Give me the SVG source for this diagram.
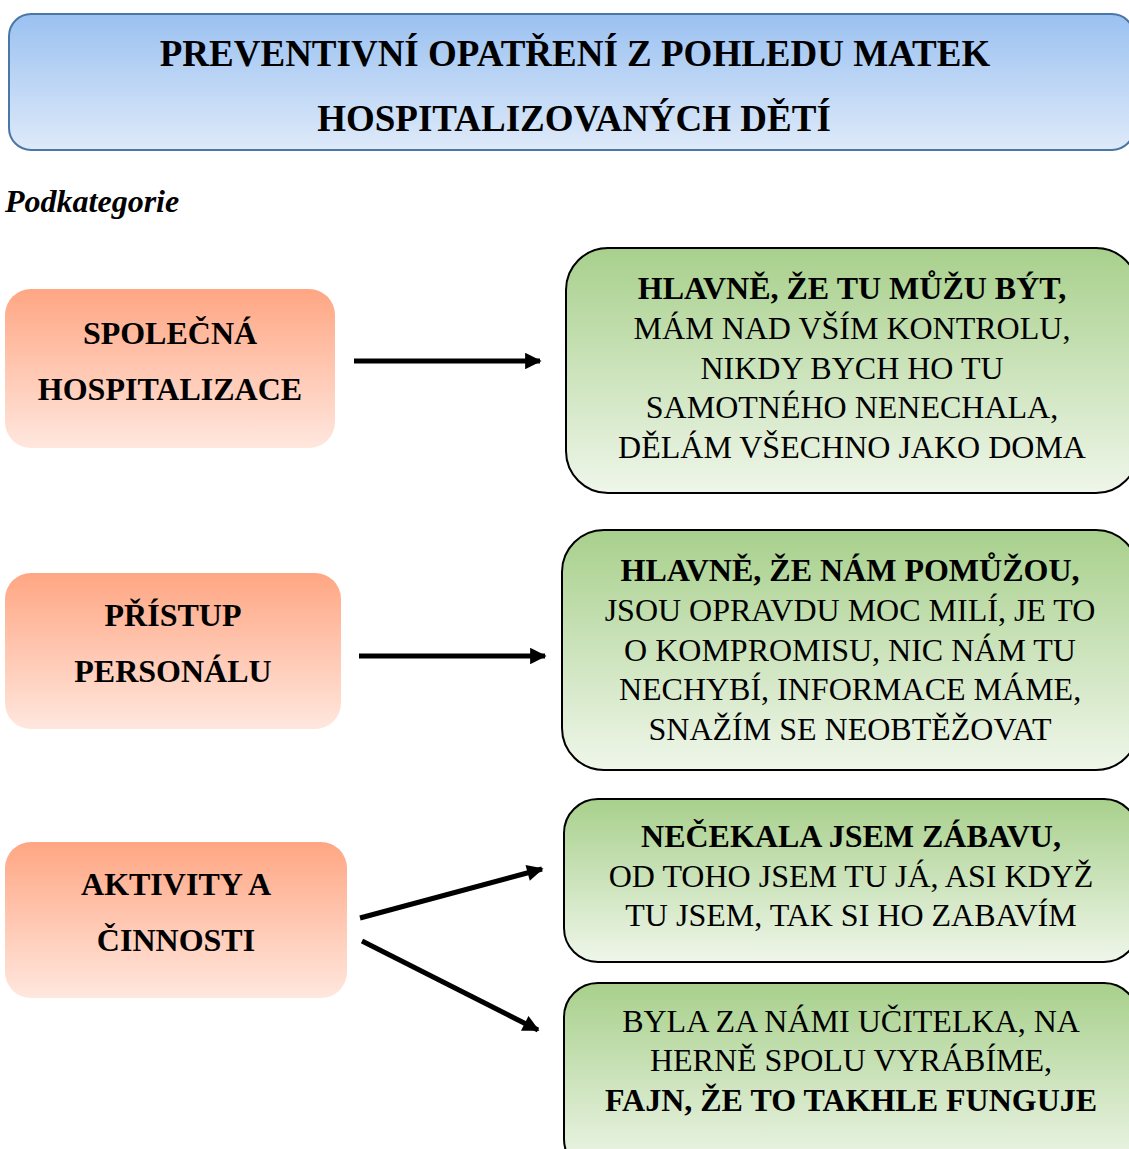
<svg xmlns="http://www.w3.org/2000/svg" width="1129" height="1149" viewBox="0 0 1129 1149">
  <defs>
    <linearGradient id="gBlue" x1="0" y1="0" x2="0" y2="1">
      <stop offset="0" stop-color="#9ac1f1"/>
      <stop offset="1" stop-color="#deeaf9"/>
    </linearGradient>
    <linearGradient id="gOrange" x1="0" y1="0" x2="0" y2="1">
      <stop offset="0" stop-color="#ffa683"/>
      <stop offset="1" stop-color="#ffe7de"/>
    </linearGradient>
    <linearGradient id="gGreen" x1="0" y1="0" x2="0" y2="1">
      <stop offset="0" stop-color="#a8d08c"/>
      <stop offset="1" stop-color="#eff6ea"/>
    </linearGradient>
    <marker id="arrow" viewBox="0 0 10 10" refX="9" refY="5" markerWidth="3.6" markerHeight="3.3" orient="auto" markerUnits="strokeWidth">
      <path d="M0,0 L10,5 L0,10 Z" fill="#000"/>
    </marker>
  </defs>
  <style>
    text { font-family: "Liberation Serif", "Times New Roman", serif; fill: #000; }
    .title { font-size: 37px; font-weight: bold; text-anchor: middle; }
    .cat { font-size: 32px; font-weight: bold; text-anchor: middle; }
    .q { font-size: 32px; text-anchor: middle; }
    .b { font-weight: bold; }
    .orange { fill: url(#gOrange); }
    .green { fill: url(#gGreen); stroke: #000; stroke-width: 2; }
    .conn line { stroke: #000; stroke-width: 5; marker-end: url(#arrow); }
  </style>

  <rect width="1129" height="1149" fill="#fff"/>

  <g id="title">
    <rect x="9" y="14" width="1125" height="136" rx="22" fill="url(#gBlue)" stroke="#4a76a8" stroke-width="2"/>
    <text class="title" x="575" y="66">PREVENTIVNÍ OPATŘENÍ Z POHLEDU MATEK</text>
    <text class="title" x="574" y="131">HOSPITALIZOVANÝCH DĚTÍ</text>
  </g>

  <text x="5" y="212" font-size="32" font-style="italic" font-weight="bold">Podkategorie</text>

  <g id="cat-spolecna">
    <rect class="orange" x="5" y="289" width="330" height="159" rx="26"/>
    <text class="cat" x="170" y="344">SPOLEČNÁ</text>
    <text class="cat" x="170" y="400">HOSPITALIZACE</text>
  </g>
  <g id="cat-pristup">
    <rect class="orange" x="5" y="573" width="336" height="156" rx="26"/>
    <text class="cat" x="173" y="626">PŘÍSTUP</text>
    <text class="cat" x="173" y="682">PERSONÁLU</text>
  </g>
  <g id="cat-aktivity">
    <rect class="orange" x="5" y="842" width="342" height="156" rx="26"/>
    <text class="cat" x="176" y="895">AKTIVITY A</text>
    <text class="cat" x="176" y="951">ČINNOSTI</text>
  </g>

  <g id="q-spolecna">
    <rect class="green" x="566" y="248" width="572" height="245" rx="42"/>
    <text class="q" x="852" y="299"><tspan class="b">HLAVNĚ, ŽE TU MŮŽU BÝT,</tspan></text>
    <text class="q" x="852" y="339">MÁM NAD VŠÍM KONTROLU,</text>
    <text class="q" x="852" y="379">NIKDY BYCH HO TU</text>
    <text class="q" x="852" y="418">SAMOTNÉHO NENECHALA,</text>
    <text class="q" x="852" y="458">DĚLÁM VŠECHNO JAKO DOMA</text>
  </g>
  <g id="q-pristup">
    <rect class="green" x="562" y="530" width="576" height="240" rx="42"/>
    <text class="q" x="850" y="581"><tspan class="b">HLAVNĚ, ŽE NÁM POMŮŽOU,</tspan></text>
    <text class="q" x="850" y="621">JSOU OPRAVDU MOC MILÍ, JE TO</text>
    <text class="q" x="850" y="661">O KOMPROMISU, NIC NÁM TU</text>
    <text class="q" x="850" y="700">NECHYBÍ, INFORMACE MÁME,</text>
    <text class="q" x="850" y="740">SNAŽÍM SE NEOBTĚŽOVAT</text>
  </g>
  <g id="q-zabava">
    <rect class="green" x="564" y="799" width="574" height="163" rx="34"/>
    <text class="q" x="851" y="847"><tspan class="b">NEČEKALA JSEM ZÁBAVU,</tspan></text>
    <text class="q" x="851" y="887">OD TOHO JSEM TU JÁ, ASI KDYŽ</text>
    <text class="q" x="851" y="926">TU JSEM, TAK SI HO ZABAVÍM</text>
  </g>
  <g id="q-ucitelka">
    <rect class="green" x="564" y="983" width="574" height="190" rx="34"/>
    <text class="q" x="851" y="1032">BYLA ZA NÁMI UČITELKA, NA</text>
    <text class="q" x="851" y="1071">HERNĚ SPOLU VYRÁBÍME,</text>
    <text class="q" x="851" y="1111"><tspan class="b">FAJN, ŽE TO TAKHLE FUNGUJE</tspan></text>
  </g>

  <g id="connectors" class="conn">
    <line x1="354" y1="361" x2="540" y2="361"/>
    <line x1="359" y1="656" x2="545" y2="656"/>
    <line x1="360" y1="918" x2="542" y2="869"/>
    <line x1="362" y1="941" x2="538" y2="1030"/>
  </g>
</svg>
